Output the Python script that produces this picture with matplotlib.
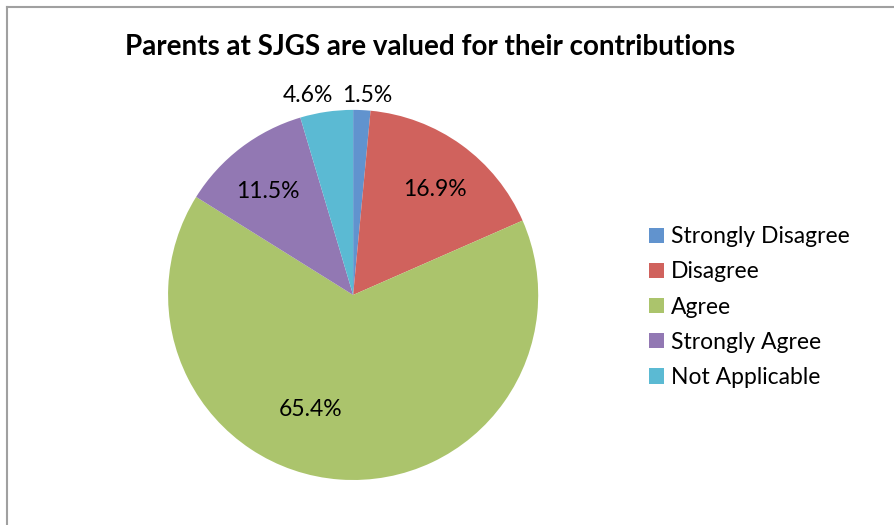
import matplotlib.pyplot as plt
from matplotlib.patches import Patch
from matplotlib.lines import Line2D

# survey answers, percent
categories = ["Strongly Disagree", "Disagree", "Agree", "Strongly Agree", "Not Applicable"]
values = [1.5, 16.9, 65.4, 11.5, 4.6]
colors = ["#6193CE", "#D0625D", "#ABC46C", "#9278B3", "#5BBAD3"]
title = "Parents at SJGS are valued for their contributions"

plt.rcParams["font.family"] = ["Lato", "DejaVu Sans"]

fig = plt.figure(figsize=(8.94, 5.25), dpi=100)
ax = fig.add_axes([0.188, 0.0857, 0.414, 0.705])

wedges, texts, autotexts = ax.pie(
    values, colors=colors, startangle=90, counterclock=False,
    autopct="%.1f%%", pctdistance=0.7,
    textprops={"fontsize": 16.5, "color": "black"},
    wedgeprops={"linewidth": 0},
)
ax.set_xlim(-1, 1)
ax.set_ylim(-1, 1)
ax.set_aspect("equal")

# show the values as given (they add to 99.9)
for t, v in zip(autotexts, values):
    t.set_text(f"{v:.1f}%")

# the two thin slices get their labels above the pie
autotexts[0].set_position((-0.06, 1.08))
autotexts[0].set_ha("left")
autotexts[4].set_position((-0.11, 1.08))
autotexts[4].set_ha("right")
autotexts[1].set_position((0.44, 0.57))
autotexts[2].set_position((-0.23, -0.62))
autotexts[3].set_position((-0.46, 0.56))

fig.text(0.481, 0.91, title, ha="center", va="center",
         fontsize=20, fontweight="bold")

handles = [Patch(facecolor=c, edgecolor="none") for c in colors]
fig.legend(handles, categories, loc="center left",
           bbox_to_anchor=(0.703, 0.415), frameon=False, fontsize=16.5,
           handlelength=0.65, handleheight=0.65, handletextpad=0.3,
           labelspacing=0.62)

# chart frame (right and bottom edges are cut off in the original)
fig.add_artist(Line2D([0.008, 0.008], [0, 0.987], color="#A0A0A0", lw=1.5))
fig.add_artist(Line2D([0.008, 1], [0.987, 0.987], color="#A0A0A0", lw=1.5))

fig.savefig("out.png", dpi=100)
